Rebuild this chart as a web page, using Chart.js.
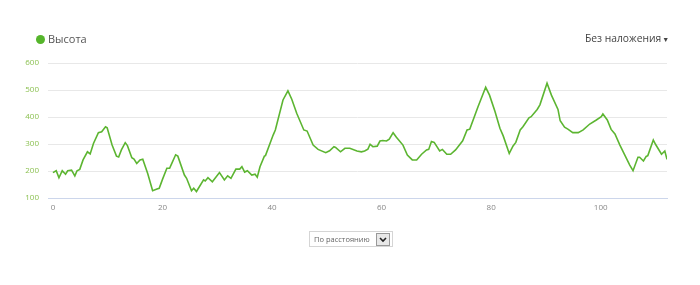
<!DOCTYPE html>
<html>
<head>
<meta charset="utf-8">
<script src="https://cdn.jsdelivr.net/npm/chart.js@4/dist/chart.umd.min.js"></script>
<style>
  body { margin: 0; background: #fff; font-family: "Open Sans", sans-serif; }
  #wrap { position: relative; width: 700px; height: 285px; }
  #chart { position: absolute; left: 0; top: 0; }
  .legend { position: absolute; left: 36px; top: 31px; font-size: 11px; color: #555; }
  .legend .dot { display: inline-block; width: 9px; height: 9px; border-radius: 50%; background: #55b52b; vertical-align: -1px; margin-right: 3px; }
  .overlay { position: absolute; left: 585px; top: 31px; font-size: 10.3px; color: #444; }
  .overlay .tri { font-size: 7px; margin-left: 1px; }
  .select { position: absolute; left: 309px; top: 231px; width: 82px; height: 14px; border: 1px solid #d5d5d5; font-size: 7.5px; color: #666; line-height: 14px; }
  .select span { padding-left: 4px; }
  .select .btn { position: absolute; right: 2px; top: 1px; width: 12px; height: 11px; border: 1px solid #999; background: #e8e8e8; }
</style>
</head>
<body>
<div id="wrap">
  <canvas id="chart" width="700" height="285"></canvas>
  <div class="legend"><span class="dot"></span>Высота</div>
  <div class="overlay">Без наложения<span class="tri">▼</span></div>
  <div class="select"><span>По расстоянию</span>
    <div class="btn"><svg width="12" height="11"><polyline points="3,4 6,7 9,4" fill="none" stroke="#222" stroke-width="1.6"/></svg></div>
  </div>
</div>
<script>
// distance, km
const distance = [
  0.0, 0.6, 1.1, 1.7, 2.3, 2.7, 3.4, 4.0, 4.4, 4.9, 5.5, 6.3, 6.8, 7.4, 8.3, 8.9, 9.6, 9.9,
  10.8, 11.6, 12.0, 12.5, 13.2, 13.6, 14.4, 14.8, 15.3, 15.9, 16.4, 17.3, 18.2, 19.0, 19.4,
  20.0, 20.8, 21.3, 21.7, 22.4, 22.8, 24.0, 24.4, 25.3, 25.7, 26.2, 27.5, 27.8, 28.3, 29.1,
  30.4, 31.3, 31.9, 32.5, 33.4, 34.1, 34.5, 35.0, 35.5, 36.3, 36.9, 37.3, 37.8, 38.6, 38.8,
  40.2, 40.6, 42.0, 42.9, 43.6, 44.5, 45.8, 46.4, 47.5, 48.4, 49.8, 50.5, 51.3, 51.6, 52.5,
  53.3, 54.2, 55.5, 56.3, 56.9, 57.5, 57.9, 58.4, 59.2, 59.7, 60.2, 60.9, 61.4, 62.1, 62.7,
  63.9, 64.7, 65.6, 66.4, 67.3, 68.2, 68.6, 69.1, 69.6, 70.6, 71.1, 71.9, 72.6, 73.5, 74.8,
  75.6, 76.1, 77.6, 79.0, 79.7, 80.7, 81.6, 82.2, 83.3, 84.0, 84.5, 85.3, 85.8, 86.9, 87.3,
  88.4, 88.9, 90.2, 91.0, 92.2, 92.6, 93.4, 94.0, 94.9, 95.9, 96.8, 98.0, 99.2, 100.1, 100.4,
  101.2, 101.9, 102.6, 103.5, 104.4, 105.3, 105.9, 106.8, 107.1, 107.8, 108.3, 108.6, 109.6,
  110.0, 111.1, 111.7, 112.1
];
// elevation, m
const elevation = [
  194, 201, 175, 201, 188, 201, 203, 182, 201, 206, 241, 271, 263, 302, 342, 345, 364, 360,
  296, 255, 252, 278, 305, 294, 249, 244, 228, 241, 244, 191, 127, 133, 136,
  169, 210, 210, 228, 260, 255, 185, 173, 127, 136, 124, 167, 163, 175, 160,
  194, 167, 182, 173, 207, 207, 216, 196, 201, 185, 188, 177, 216, 255, 257,
  333, 352, 463, 497, 466, 414, 352, 348, 296, 280, 268, 275, 290, 287, 271,
  284, 284, 274, 271, 274, 281, 299, 290, 292, 311, 313, 311, 318, 342, 325,
  296, 259, 241, 241, 262, 278, 280, 309, 306, 274, 280, 262, 262, 278, 312,
  352, 355, 438, 510, 481, 420, 358, 330, 265, 293, 306, 352, 364, 397, 401,
  428, 445, 525, 481, 428, 386, 362, 355, 342, 342, 352, 374, 389, 401, 411,
  389, 354, 337, 296, 259, 222, 201, 251, 251, 237, 254, 257, 315,
  299, 262, 274, 243
];
const xTicks = [0, 20, 40, 60, 80, 100];
const yTicks = [100, 200, 300, 400, 500, 600];

const points = distance.map((d, i) => ({ x: d, y: elevation[i] }));

new Chart(document.getElementById('chart'), {
  type: 'line',
  data: {
    datasets: [{
      label: 'Высота',
      data: points,
      borderColor: '#5cb531',
      borderWidth: 1.6,
      pointRadius: 0,
      tension: 0
    }]
  },
  options: {
    responsive: false,
    animation: false,
    layout: { padding: { top: 63, right: 33, bottom: 67, left: 0 } },
    plugins: { legend: { display: false }, tooltip: { enabled: false } },
    scales: {
      x: {
        type: 'linear',
        min: -0.9,
        max: 112.1,
        afterBuildTicks: s => { s.ticks = xTicks.map(v => ({ value: v })); },
        afterFit: s => { s.height = 20; },
        grid: { display: false, drawTicks: false },
        border: { color: '#ccd6eb', width: 1 },
        ticks: { color: '#888', font: { family: 'Open Sans', size: 8 }, padding: 5, maxRotation: 0 }
      },
      y: {
        min: 100,
        max: 600,
        afterBuildTicks: s => { s.ticks = yTicks.map(v => ({ value: v })); },
        afterFit: s => { s.width = 48; },
        grid: { color: '#e8e8e8', drawTicks: false },
        border: { display: false },
        ticks: { color: '#8cc152', font: { family: 'Open Sans', size: 8 }, padding: 9 }
      }
    }
  }
});
</script>
</body>
</html>
